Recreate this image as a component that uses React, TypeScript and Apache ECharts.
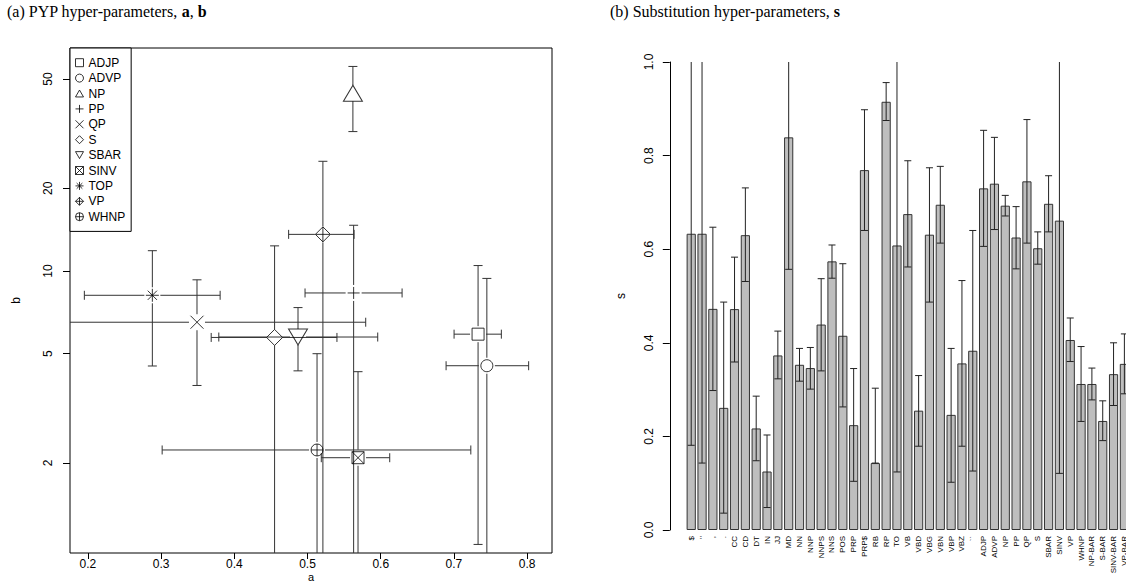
import React, { useEffect, useRef } from 'react';
import * as echarts from 'echarts';

// ---------- Panel (a): PYP hyper-parameters ----------
const constituents = ['ADJP', 'ADVP', 'NP', 'PP', 'QP', 'S', 'SBAR', 'SINV', 'TOP', 'VP', 'WHNP'];
const aMean = [0.733, 0.745, 0.562, 0.563, 0.349, 0.455, 0.487, 0.569, 0.288, 0.521, 0.513];
const aLow = [0.7002, 0.6893, 0.557, 0.4966, 0.15, 0.3684, 0.3788, 0.5188, 0.1951, 0.4742, 0.3014];
const aHigh = [0.7648, 0.8021, 0.567, 0.6292, 0.5795, 0.5402, 0.5959, 0.6123, 0.3806, 0.5636, 0.7231];
const bMean = [5.89, 4.52, 44.4, 8.32, 6.51, 5.73, 5.75, 2.09, 8.16, 13.6, 2.23];
const bLow = [1.01, 0.5, 32.2, 0.5, 3.83, 0.5, 4.33, 0.5, 4.51, 0.5, 0.5];
const bHigh = [10.47, 9.4, 55.6, 14.68, 9.29, 12.35, 7.36, 4.3, 11.86, 25.1, 5.0];
const aTicks = [0.2, 0.3, 0.4, 0.5, 0.6, 0.7, 0.8];
const bTicks = [2, 5, 10, 20, 50];

// ---------- Panel (b): substitution hyper-parameters ----------
const tags = ['$', "''", ',', '.', 'CC', 'CD', 'DT', 'IN', 'JJ', 'MD', 'NN', 'NNP', 'NNPS', 'NNS', 'POS', 'PRP', 'PRP$', 'RB', 'RP', 'TO', 'VB', 'VBD', 'VBG', 'VBN', 'VBP', 'VBZ', '``', 'ADJP', 'ADVP', 'NP', 'PP', 'QP', 'S', 'SBAR', 'SINV', 'VP', 'WHNP', 'NP-BAR', 'S-BAR', 'SINV-BAR', 'VP-BAR'];
const sMean = [0.633, 0.633, 0.4725, 0.261, 0.472, 0.63, 0.217, 0.125, 0.373, 0.839, 0.353, 0.346, 0.439, 0.574, 0.415, 0.224, 0.769, 0.143, 0.915, 0.608, 0.675, 0.255, 0.631, 0.695, 0.246, 0.356, 0.383, 0.73, 0.74, 0.693, 0.625, 0.745, 0.602, 0.697, 0.661, 0.406, 0.312, 0.312, 0.233, 0.333, 0.355];
const sLow = [0.181, 0.143, 0.298, 0.036, 0.359, 0.531, 0.148, 0.048, 0.323, 0.557, 0.318, 0.301, 0.34, 0.538, 0.263, 0.104, 0.64, 0.143, 0.875, 0.124, 0.562, 0.179, 0.487, 0.613, 0.102, 0.179, 0.126, 0.606, 0.642, 0.671, 0.558, 0.613, 0.568, 0.637, 0.121, 0.36, 0.232, 0.278, 0.191, 0.266, 0.291];
const sHigh = [1.3, 1.3, 0.647, 0.487, 0.583, 0.731, 0.286, 0.203, 0.425, 1.3, 0.388, 0.39, 0.537, 0.609, 0.569, 0.345, 0.898, 0.303, 0.956, 1.3, 0.789, 0.33, 0.774, 0.777, 0.388, 0.533, 0.64, 0.854, 0.839, 0.715, 0.691, 0.877, 0.637, 0.757, 1.3, 0.453, 0.392, 0.346, 0.276, 0.4, 0.419];

const SANS = 'Liberation Sans, Arial, Helvetica, sans-serif';
const SERIF = 'Liberation Serif, Times New Roman, serif';

const symbols: string[] = [
  'path://M0,0H10V10H0Z',
  'circle',
  'path://M5,0L10,8.66L0,8.66Z',
  'path://M5,0V10M0,5H10',
  'path://M0,0L10,10M10,0L0,10',
  'path://M5,0L10,5L5,10L0,5Z',
  'path://M0,0H10L5,8.66Z',
  'path://M0,0H10V10H0ZM0,0L10,10M10,0L0,10',
  'path://M5,0V10M0,5H10M1.46,1.46L8.54,8.54M8.54,1.46L1.46,8.54',
  'path://M5,0L10,5L5,10L0,5ZM5,0V10M0,5H10',
  'path://M0,5A5,5,0,1,1,10,5A5,5,0,1,1,0,5ZM5,0V10M0,5H10',
];
const symbolSizes: any[] = [12, 12, [19, 16], 12, 13, 16, [19, 16], 12, 13, 15, 12];

export default function App() {
  const ref = useRef<HTMLDivElement>(null);

  useEffect(() => {
    document.body.style.margin = '0';
    const chart = echarts.init(ref.current as HTMLDivElement, null, { renderer: 'svg' });

    const lineStyle = { stroke: '#333', lineWidth: 1 };
    const GAP = 8;
    const CAP = 4.5;

    const errData = constituents.map((_, i) => [aMean[i], bMean[i], aLow[i], aHigh[i], bLow[i], bHigh[i]]);

    const scatterSeries = constituents.map((name, i) => ({
      name,
      type: 'scatter',
      xAxisIndex: 0,
      yAxisIndex: 0,
      symbol: symbols[i],
      symbolSize: symbolSizes[i],
      symbolKeepAspect: false,
      itemStyle: { color: 'none', borderColor: '#000', borderWidth: 1 },
      emphasis: { disabled: true },
      data: [[aMean[i], bMean[i]]],
      z: 3,
    }));

    const titleStyle = {
      fontFamily: SERIF, fontSize: 16, fontWeight: 'normal', color: '#000',
      rich: { b: { fontFamily: SERIF, fontSize: 16, fontWeight: 'bold', color: '#000' } },
    };

    const option: any = {
      animation: false,
      title: [
        { text: '(a) PYP hyper-parameters, {b|a}, {b|b}', left: 7, top: 3, padding: 0, textStyle: titleStyle },
        { text: '(b) Substitution hyper-parameters, {b|s}', left: 610, top: 3, padding: 0, textStyle: titleStyle },
      ],
      legend: {
        data: constituents,
        orient: 'vertical',
        left: 70,
        top: 48,
        padding: [7, 6, 7, 3],
        itemGap: 0,
        itemWidth: 8,
        itemHeight: 8,
        selectedMode: false,
        borderColor: '#000',
        borderWidth: 1,
        borderRadius: 0,
        backgroundColor: '#fff',
        itemStyle: { borderWidth: 1 },
        textStyle: { fontFamily: SANS, fontSize: 12, color: '#000', lineHeight: 15.4 },
        z: 10,
      },
      grid: [
        {
          left: 70, right: 574, top: 48, bottom: 29, show: true, borderColor: '#000', borderWidth: 1,
          backgroundColor: 'transparent', containLabel: false, outerBoundsMode: 'none',
        },
        { left: 685.8, right: -3.8, top: 62, bottom: 52, containLabel: false, outerBoundsMode: 'none' },
      ],
      xAxis: [
        {
          type: 'value', gridIndex: 0, min: 0.1755, max: 0.834,
          name: 'a', nameLocation: 'middle', nameGap: 19.5, nameMoveOverlap: false,
          nameTextStyle: { fontFamily: SANS, fontSize: 11, color: '#000', lineHeight: 9 },
          axisLine: { show: false },
          splitLine: { show: false },
          axisTick: { show: true, customValues: aTicks, length: 6, lineStyle: { color: '#000' } },
          axisLabel: {
            customValues: aTicks, fontFamily: SANS, fontSize: 12, lineHeight: 12, color: '#000', margin: 5,
            formatter: (v: number) => v.toFixed(1),
          },
        },
        {
          type: 'category', gridIndex: 1, data: tags,
          axisLine: { show: false },
          axisTick: { show: false },
          splitLine: { show: false },
          axisLabel: { interval: 0, rotate: 90, fontFamily: SANS, fontSize: 8, color: '#000', margin: 6 },
        },
      ],
      yAxis: [
        {
          type: 'log', gridIndex: 0, logBase: 10, min: 0.94, max: 64.9,
          name: 'b', nameLocation: 'middle', nameRotate: 90, nameGap: 48, nameMoveOverlap: false,
          nameTextStyle: { fontFamily: SANS, fontSize: 12, color: '#000' },
          axisLine: { show: false },
          splitLine: { show: false },
          minorTick: { show: false },
          axisTick: { show: true, customValues: bTicks, length: 7, lineStyle: { color: '#000' } },
          axisLabel: {
            customValues: bTicks, rotate: 90, fontFamily: SANS, fontSize: 12, color: '#000', margin: 16,
            formatter: (v: number) => String(Math.round(v)),
          },
        },
        {
          type: 'value', gridIndex: 1, min: 0, max: 1, interval: 0.2, offset: 16,
          name: 's', nameLocation: 'middle', nameRotate: 90, nameGap: 43, nameMoveOverlap: false,
          nameTextStyle: { fontFamily: SANS, fontSize: 12, color: '#000' },
          axisLine: { show: true, lineStyle: { color: '#000', width: 1 } },
          splitLine: { show: false },
          axisTick: { show: true, length: 7, lineStyle: { color: '#000' } },
          axisLabel: {
            rotate: 90, fontFamily: SANS, fontSize: 12, color: '#000', margin: 15,
            formatter: (v: number) => v.toFixed(1),
          },
        },
      ],
      series: [
        {
          type: 'custom',
          name: 'ci',
          xAxisIndex: 0,
          yAxisIndex: 0,
          clip: true,
          silent: true,
          encode: { x: [0, 2, 3], y: [1, 4, 5] },
          data: errData,
          renderItem: (_params: any, api: any) => {
            const a = api.value(0), b = api.value(1);
            const c = api.coord([a, b]);
            const xl = api.coord([api.value(2), b])[0];
            const xh = api.coord([api.value(3), b])[0];
            const yl = api.coord([a, api.value(4)])[1];
            const yh = api.coord([a, api.value(5)])[1];
            const ch: any[] = [];
            const L = (x1: number, y1: number, x2: number, y2: number) =>
              ch.push({ type: 'line', shape: { x1, y1, x2, y2 }, style: lineStyle });
            if (c[0] - xl > GAP) { L(xl, c[1], c[0] - GAP, c[1]); L(xl, c[1] - CAP, xl, c[1] + CAP); }
            if (xh - c[0] > GAP) { L(c[0] + GAP, c[1], xh, c[1]); L(xh, c[1] - CAP, xh, c[1] + CAP); }
            if (yl - c[1] > GAP) { L(c[0], c[1] + GAP, c[0], yl); L(c[0] - CAP, yl, c[0] + CAP, yl); }
            if (c[1] - yh > GAP) { L(c[0], yh, c[0], c[1] - GAP); L(c[0] - CAP, yh, c[0] + CAP, yh); }
            return { type: 'group', children: ch };
          },
          z: 2,
        },
        ...scatterSeries,
        {
          type: 'bar',
          name: 's-bar',
          xAxisIndex: 1,
          yAxisIndex: 1,
          data: sMean,
          barWidth: 9.2,
          itemStyle: { color: '#bebebe', borderColor: '#333', borderWidth: 1 },
          emphasis: { disabled: true },
          z: 2,
        },
        {
          type: 'custom',
          name: 's-ci',
          xAxisIndex: 1,
          yAxisIndex: 1,
          clip: true,
          silent: true,
          encode: { x: 0, y: [1, 2] },
          data: tags.map((_, i) => [i, sLow[i], sHigh[i]]),
          renderItem: (_params: any, api: any) => {
            const i = api.value(0);
            const lo = api.coord([i, api.value(1)]);
            const hi = api.coord([i, api.value(2)]);
            const x = lo[0];
            const cap = 3.5;
            const st = { stroke: '#222', lineWidth: 1 };
            return {
              type: 'group',
              children: [
                { type: 'line', shape: { x1: x, y1: lo[1], x2: x, y2: hi[1] }, style: st },
                { type: 'line', shape: { x1: x - cap, y1: lo[1], x2: x + cap, y2: lo[1] }, style: st },
                { type: 'line', shape: { x1: x - cap, y1: hi[1], x2: x + cap, y2: hi[1] }, style: st },
              ],
            };
          },
          z: 3,
        },
      ],
    };

    chart.setOption(option);
    return () => chart.dispose();
  }, []);

  return <div ref={ref} style={{ width: 1126, height: 582 }} />;
}
